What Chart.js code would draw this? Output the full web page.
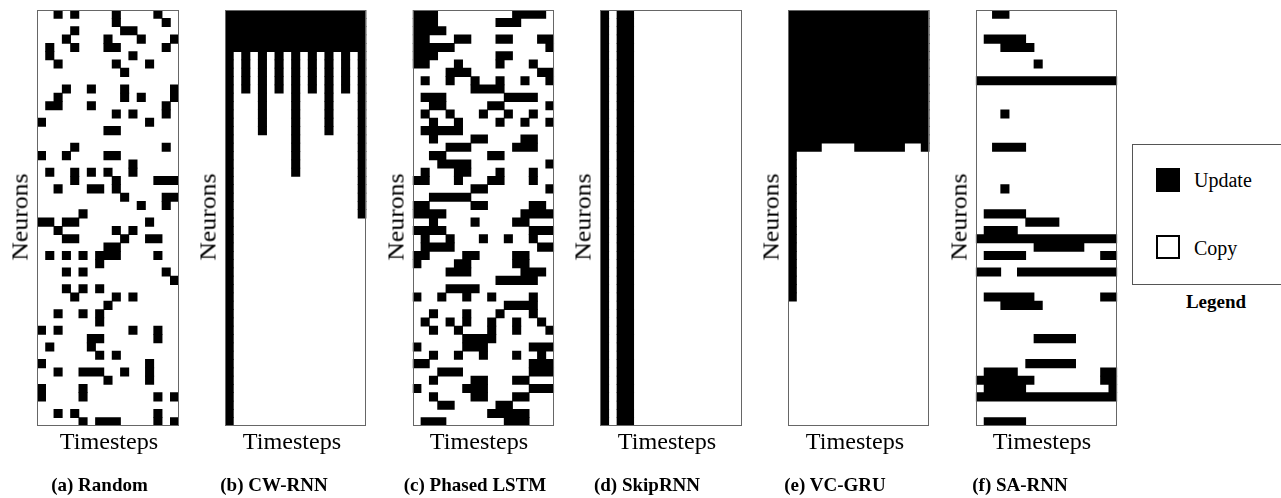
<!DOCTYPE html>
<html><head><meta charset="utf-8">
<script src="https://cdn.jsdelivr.net/npm/chart.js@4.4.1/dist/chart.umd.min.js"></script>
<style>
html,body{margin:0;padding:0;background:#fff;}
body{width:1281px;height:498px;position:relative;overflow:hidden;}
canvas{position:absolute;}
.lab{position:absolute;font-family:"Liberation Serif",serif;color:#000;white-space:nowrap;line-height:1;}
.neu{font-size:23px;transform:translate(-50%,-50%) rotate(-90deg) scaleX(1.12);}
.ts{font-size:23px;transform:translate(-50%,-50%) scaleX(1.05);}
.cap{font-weight:bold;font-size:19px;transform:translate(-50%,-50%);}
</style></head><body>
<script>
// ---------------- data ----------------
const NROWS = 50;   // neurons
const NCOLS = 17;   // timesteps
const panelTitles = ["(a) Random", "(b) CW-RNN", "(c) Phased LSTM", "(d) SkipRNN", "(e) VC-GRU", "(f) SA-RNN"];
const xTitle = "Timesteps";
const yTitle = "Neurons";
const legendLabels = ["Update", "Copy"];
const legendTitle = "Legend";

// per neuron row: updated timesteps ("a-b" = run a..b)
const randomRows = [
 "2 4 9 14", "9 15", "4 10-11", "3 8 12 16", "1 4 8-9 15",
 "1 11", "2 9 13", "10", "", "3 6 10 16",
 "2 10 12 16", "1-2 6 15", "9 11 15", "0 13", "8-9",
 "", "4 15", "0 3 8-9", "11", "1 4 6 8 11",
 "4 9 14-16", "2 6-7 9", "10 15-16", "12 15", "5",
 "0-1 3-4 13", "2 9 11", "3-4 10 13-14", "8-9", "1 3 5 7-9 14",
 "7", "3 5 15", "16", "3 5 7", "4 9 11",
 "8", "2 5 7", "7", "0 2 11 14", "6-7 14",
 "1 6", "7 9", "0 13", "2 5-7 10 13", "8 13",
 "0 5", "0 5 14 16", "", "2 4 14", "5 7-9 14 16"
];
// CW-RNN: number of updated neurons (from top) per timestep
const cwHeights = [50, 5, 10, 5, 15, 5, 10, 5, 20, 5, 10, 5, 15, 5, 10, 5, 25];
const phasedRows = [
 "0-2 12-15", "0-2 10-12", "0-3", "0-1 5-6 10-11 15-16", "0-4 16",
 "0-2 10-11", "0-1 5 10 14", "4-6 15-16", "1 4 7 10 13 16", "7-10",
 "1-3 11-14", "2-3 9-10 16", "1 4 8 11 14", "2 5 10 13 16", "1-5",
 "2 7-8 13-14", "4-6 12-14", "2-3 9-10", "3-6 16", "1 5-6 10 14",
 "0-1 5 9-10 14", "7-8 16", "2-6", "0-1 7-8 14-15", "0-3 13-16",
 "2 7 12-13", "0-3 14-16", "1 4 8 11 14", "1-4 15-16", "0-1 6-7 12-13",
 "0 5-6 12-13", "4-6 13-15", "10-14", "4-7", "0 3 6 9 14",
 "11-14", "2 6 10 14", "1 4 6 9 12 15", "2 5 9 12 16", "6-9",
 "0 6-8 14-16", "2 5 8 12 15", "0-1 14-16", "3-5 14-16", "2 7-8 12-13",
 "0 6-8 14-16", "2 7-8 12-13", "3-4 10-11", "9-13", "1-3 11-13"
];
// SkipRNN: 1 = whole state updated at that timestep
const skipCols = [1, 0, 1, 1, 0, 0, 0, 0, 0, 0, 0, 0, 0, 0, 0, 0, 0];
// VC-GRU: number of updated neurons (from top) per timestep
const vcHeights = [35, 17, 17, 17, 16, 16, 16, 16, 17, 17, 17, 17, 17, 17, 16, 16, 17];
const saRows = [
 "2-3", "", "", "1-5", "3-6",
 "", "7", "", "0-16", "",
 "", "", "3", "", "",
 "", "2-5", "", "", "",
 "", "3", "", "", "1-5",
 "6-9", "1-4", "0-16", "7-12", "1-5 15-16",
 "", "0-2 5-16", "", "", "1-6 15-16",
 "3-7", "", "", "", "7-11",
 "", "", "6-11", "1-4 15-16", "0-6 15-16",
 "1-5 16", "0-16", "", "", "1-5"
];

// ---------------- helpers ----------------
function parseRows(rows) {
  return rows.map(s => s.trim() === "" ? [] : s.trim().split(/\s+/).map(t => {
    const p = t.split("-").map(Number);
    return [p[0], (p.length > 1 ? p[1] : p[0]) + 1];
  }));
}
function heightsToRows(h) {
  const out = [];
  for (let r = 0; r < NROWS; r++) {
    const runs = []; let s = -1;
    for (let c = 0; c <= NCOLS; c++) {
      const on = c < NCOLS && r < h[c];
      if (on && s < 0) s = c;
      if (!on && s >= 0) { runs.push([s, c]); s = -1; }
    }
    out.push(runs);
  }
  return out;
}
function makeDatasets(runsPerRow) {
  const maxK = Math.max(1, ...runsPerRow.map(r => r.length));
  const ds = [];
  for (let k = 0; k < maxK; k++) {
    ds.push({
      data: runsPerRow.map(r => r[k] ? r[k] : null),
      backgroundColor: "#000",
      borderWidth: 0,
      barPercentage: 1,
      categoryPercentage: 1,
      inflateAmount: 0.38,
      grouped: false
    });
  }
  return ds;
}
const panels = [
  parseRows(randomRows),
  heightsToRows(cwHeights),
  parseRows(phasedRows),
  heightsToRows(skipCols.map(v => v ? NROWS : 0)),
  heightsToRows(vcHeights),
  parseRows(saRows)
];
const rowLabels = Array.from({length: NROWS}, (_, i) => String(i));

const framePlugin = {
  id: "frame",
  afterDatasetsDraw(chart) {
    const {ctx, chartArea: a} = chart;
    ctx.save();
    ctx.strokeStyle = "#666";
    ctx.lineWidth = 1;
    const l = Math.round(a.left) + 0.5, t = Math.round(a.top) + 0.5;
    const r = Math.round(a.right) - 0.5, b = Math.round(a.bottom) - 0.5;
    ctx.strokeRect(l, t, r - l, b - t);
    ctx.restore();
  }
};

// ---------------- layout ----------------
const PANEL_W = 141.4, PANEL_H = 416, PANEL_TOP = 10, STEP = 187.7, FIRST_LEFT = 37.3;
const CANVAS_W = 152, CANVAS_H = 426;
const capCenters = [99.5, 274, 475, 647, 835, 1020];
const tsCenters = [109, 292, 479, 667, 855, 1042];

function addText(cls, text, x, y) {
  const d = document.createElement("div");
  d.className = "lab " + cls;
  d.textContent = text;
  d.style.left = x + "px";
  d.style.top = y + "px";
  document.body.appendChild(d);
}

panels.forEach((runs, i) => {
  const L = FIRST_LEFT + STEP * i;
  const cl = Math.floor(L) - 5;
  const padL = L - cl;
  const padR = CANVAS_W - padL - PANEL_W;
  const cv = document.createElement("canvas");
  cv.width = CANVAS_W; cv.height = CANVAS_H;
  cv.style.left = cl + "px"; cv.style.top = (PANEL_TOP - 5) + "px";
  cv.style.width = CANVAS_W + "px"; cv.style.height = CANVAS_H + "px";
  document.body.appendChild(cv);
  new Chart(cv, {
    type: "bar",
    data: {labels: rowLabels, datasets: makeDatasets(runs)},
    options: {
      indexAxis: "y",
      responsive: false,
      animation: false,
      devicePixelRatio: 1,
      events: [],
      layout: {padding: {left: padL, right: padR, top: 5, bottom: 5}},
      plugins: {legend: {display: false}, tooltip: {enabled: false}},
      scales: {
        x: {type: "linear", min: 0, max: NCOLS, display: false},
        y: {type: "category", display: false, offset: true}
      }
    },
    plugins: [framePlugin]
  });
  addText("neu", yTitle, L - 17, 217);
  addText("ts", xTitle, tsCenters[i], 441);
  addText("cap", panelTitles[i], capCenters[i], 484);
});

// legend box
const box = document.createElement("div");
box.style.cssText = "position:absolute;left:1132px;top:144px;width:160px;height:141px;border:1px solid #555;box-sizing:border-box;";
document.body.appendChild(box);
const sq1 = document.createElement("div");
sq1.style.cssText = "position:absolute;left:1156px;top:168px;width:24px;height:24px;background:#000;";
document.body.appendChild(sq1);
const sq2 = document.createElement("div");
sq2.style.cssText = "position:absolute;left:1156px;top:235px;width:24px;height:24px;border:2px solid #000;box-sizing:border-box;background:#fff;";
document.body.appendChild(sq2);
const lt1 = document.createElement("div");
lt1.className = "lab"; lt1.textContent = legendLabels[0];
lt1.style.cssText = "left:1194px;top:180px;font-size:20px;transform:translateY(-50%);";
document.body.appendChild(lt1);
const lt2 = document.createElement("div");
lt2.className = "lab"; lt2.textContent = legendLabels[1];
lt2.style.cssText = "left:1194px;top:248px;font-size:20px;transform:translateY(-50%);";
document.body.appendChild(lt2);
addText("cap", legendTitle, 1216, 301);
</script>
</body></html>
